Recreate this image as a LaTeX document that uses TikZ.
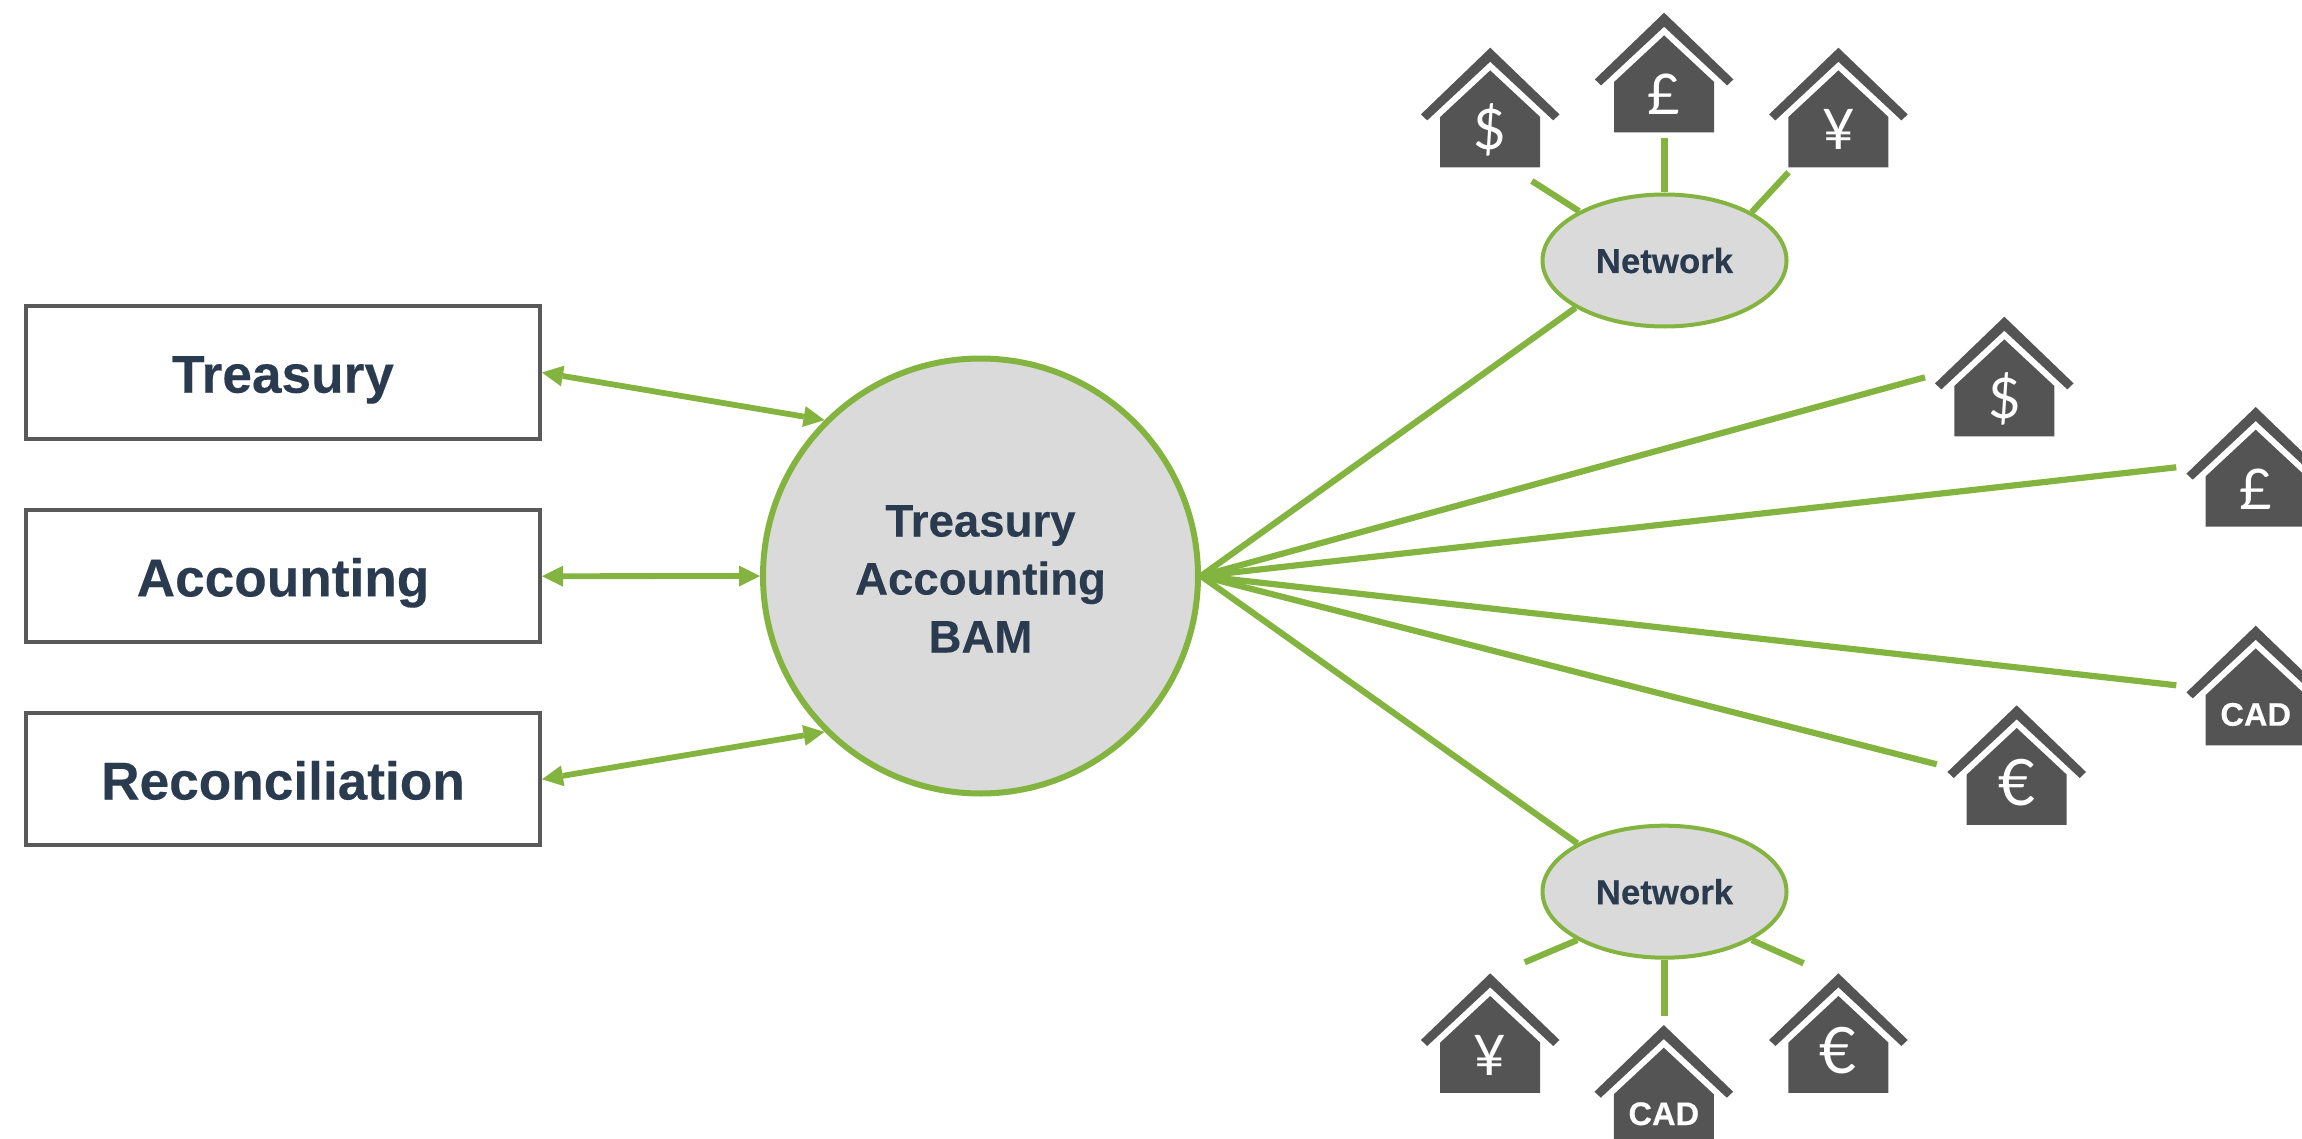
\documentclass[tikz,border=0pt]{standalone}
\usepackage{fontspec}
\setmainfont[BoldFeatures={FakeBold=0.25}]{Liberation Sans}
\newfontfamily\symfont{Lato}
\usetikzlibrary{shapes.geometric,arrows.meta}
\definecolor{gr}{HTML}{84B440}
\definecolor{hs}{HTML}{545454}
\definecolor{bx}{HTML}{595959}
\definecolor{tx}{HTML}{2A3B50}
\definecolor{fl}{HTML}{DADADA}
\tikzset{
  px/.style={x=.5pt,y=-.5pt},
  lnk/.style={draw=gr,line width=3.1pt},
  two/.style={draw=gr,line width=2.9pt,{Triangle[length=10.5pt,width=10.5pt,line width=0pt]}-{Triangle[length=10.5pt,width=10.5pt,line width=0pt]}},
  boxn/.style={draw=bx,line width=2pt,fill=white,minimum width=257pt,minimum height=66pt,inner sep=0pt,text=tx,text height=20.2pt,text depth=0pt,font=\bfseries\fontsize{26.6}{30}\selectfont},
  bign/.style={circle,draw=gr,line width=3pt,fill=fl,minimum size=217.5pt,inner sep=0pt,align=center,text=tx,font=\bfseries\fontsize{22.8}{29}\selectfont},
  netn/.style={ellipse,draw=gr,line width=2pt,fill=fl,minimum width=122pt,minimum height=66pt,inner sep=0pt,text=tx,text height=12.5pt,text depth=0pt,font=\bfseries\fontsize{17.4}{20}\selectfont},
  symn/.style={text=white,inner sep=0pt,anchor=base,font=\symfont\fontsize{28}{32}\selectfont},
  cadn/.style={text=white,inner sep=0pt,anchor=base,font=\bfseries\fontsize{16.3}{20}\selectfont},
  eurn/.style={symn,font=\symfont\fontsize{32}{36}\selectfont},
}
\newcommand\bankhouse[6]{% cx, apex y, node name, style, baseline below apex, text
  \begin{scope}[shift={(#1,#2)}]
    \fill[hs] (0,0) -- (69.3,66.7) -- (63,72.7) -- (0,14) -- (-63,72.7) -- (-69.3,66.7) -- cycle;
    \fill[hs] (0,22.7) -- (50,69.3) -- (50,119.6) -- (-50,119.6) -- (-50,69.3) -- cycle;
    \node[#4] (#3) at (0,#5) {#6};
  \end{scope}}
\begin{document}
\begin{tikzpicture}[px]
\clip (0,0) rectangle (2302,1139);
% free ends of the spokes
\coordinate (s1) at (1925,377.3);
\coordinate (s2) at (2176.3,467.3);
\coordinate (s3) at (2176.3,685.3);
\coordinate (s4) at (1936.7,764.3);
\coordinate (t1) at (1531.9,181);
\coordinate (t2) at (1664.5,137.7);
\coordinate (t3) at (1788.5,172.3);
\coordinate (b1) at (1524.7,962.3);
\coordinate (b2) at (1664.5,1016);
\coordinate (b3) at (1803.6,963.3);
\node[boxn] (tre) at (283,372.5) {Treasury};
\node[boxn] (acc) at (283,576.2) {Accounting};
\node[boxn] (rec) at (283,779.3) {Reconciliation};
\node[bign] (bam) at (980.5,576) {\rule{0pt}{18.5pt}Treasury\\Accounting\\BAM};
\node[netn] (net1) at (1664.5,260.5) {Network};
\node[netn] (net2) at (1664.5,891.7) {Network};
\draw[lnk] (bam.east) -- (net1.208.6);
\draw[lnk] (bam.east) -- (s1);
\draw[lnk] (bam.east) -- (s2);
\draw[lnk] (bam.east) -- (s3);
\draw[lnk] (bam.east) -- (s4);
\draw[lnk] (bam.east) -- (net2.151);
\draw[lnk] (net1.150.6) -- (t1);
\draw[lnk] (net1.90) -- (t2);
\draw[lnk] (net1.29.2) -- (t3);
\draw[lnk] (net2.209) -- (b1);
\draw[lnk] (net2.270) -- (b2);
\draw[lnk] (net2.331) -- (b3);
\draw[two] (tre.east) -- (bam.135);
\draw[two] (acc.east) -- (bam.west);
\draw[two] (rec.east) -- (bam.225);
% houses
\bankhouse{1490.2}{47.7}{hA}{symn}{102}{\$}
\bankhouse{1664.1}{12.7}{hB}{symn}{102.3}{£}
\bankhouse{1838.4}{47.7}{hC}{symn}{102.3}{¥}
\bankhouse{2004.3}{316.7}{hD}{symn}{102}{\$}
\bankhouse{2255.7}{407}{hE}{symn}{102.3}{£}
\bankhouse{2255.7}{625.7}{hF}{cadn}{100}{CAD}
\bankhouse{2016.7}{705.3}{hG}{eurn}{100}{€}
\bankhouse{1490.2}{973.3}{hH}{symn}{102.3}{¥}
\bankhouse{1663.8}{1025}{hI}{cadn}{100}{CAD}
\bankhouse{1838.4}{973.3}{hJ}{eurn}{100}{€}
\end{tikzpicture}
\end{document}
